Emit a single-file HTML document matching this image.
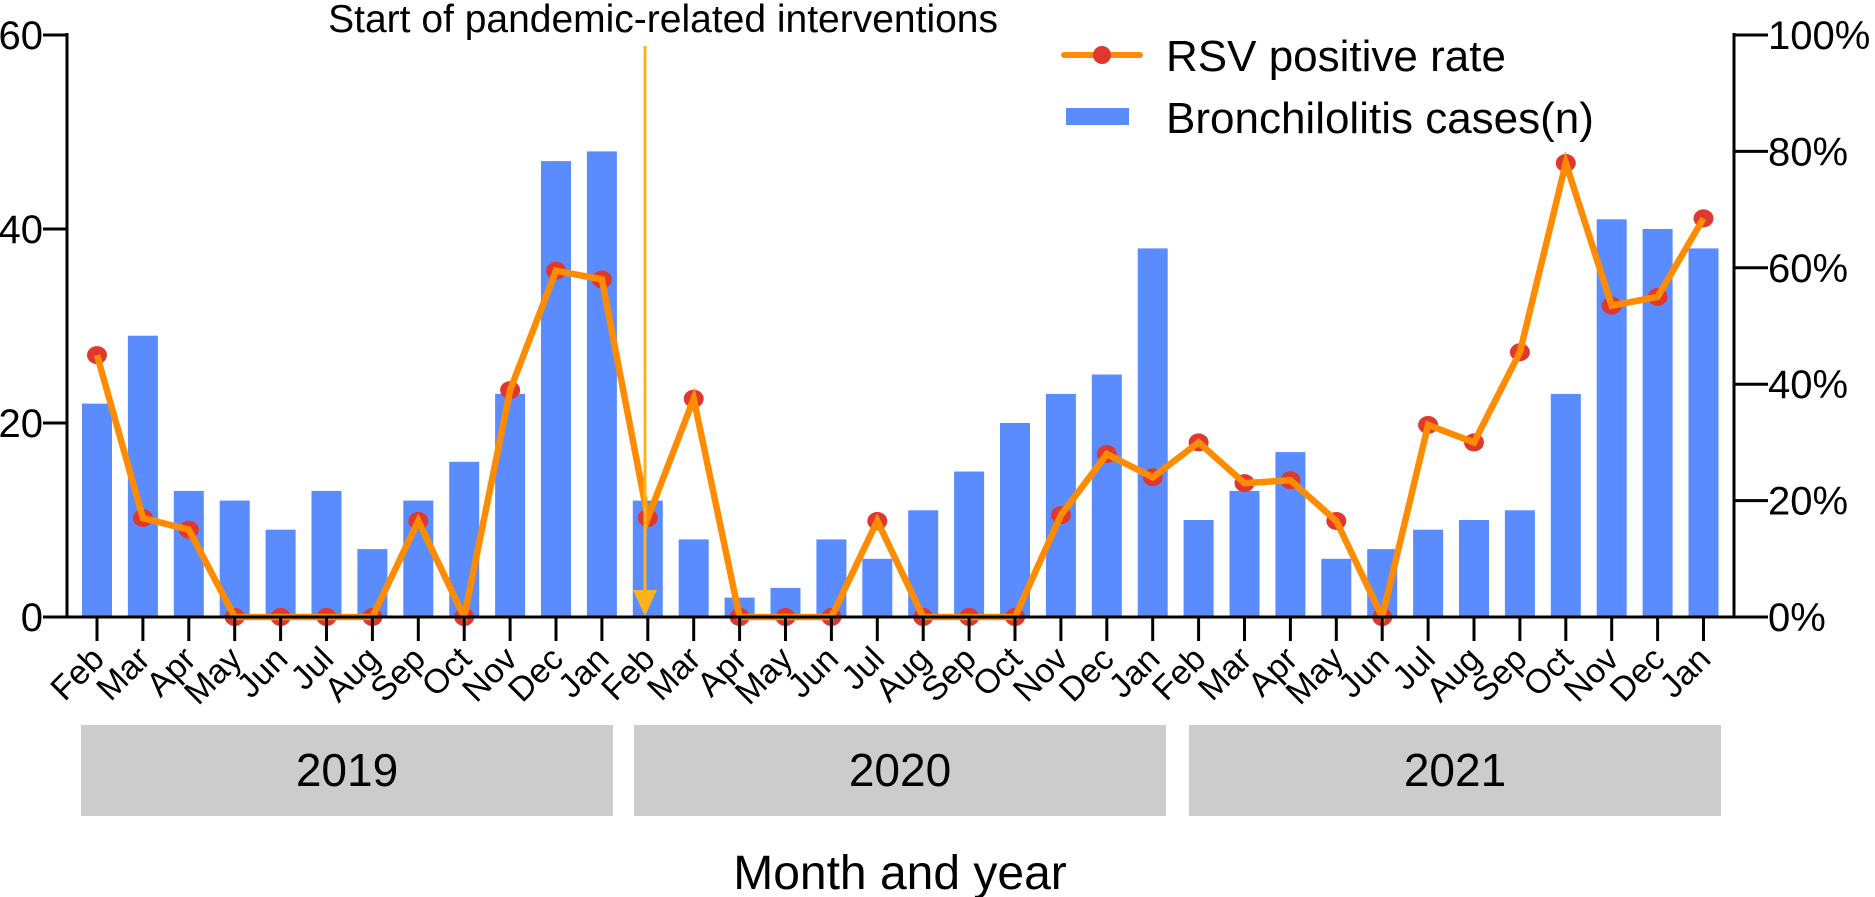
<!DOCTYPE html>
<html><head><meta charset="utf-8"><style>
body{margin:0;background:#fff;}
svg{display:block;font-family:"Liberation Sans",Arial,sans-serif;}
</style></head><body>
<svg id="chart" width="1875" height="897" viewBox="0 0 1875 897" xmlns="http://www.w3.org/2000/svg">
<g id="bars"></g>
<g id="line"></g>
<g id="axes"></g>
<g>
<text x="998" y="32" font-size="39" text-anchor="end">Start of pandemic-related interventions</text>
<line x1="645" y1="46" x2="645" y2="600" stroke="#ffb31a" stroke-width="3"/>
<polygon points="633,590 657,590 645,616" fill="#ffb31a"/>
</g>
<g>
<line x1="1064" y1="55" x2="1140" y2="55" stroke="#ff8c00" stroke-width="6" stroke-linecap="round"/>
<ellipse cx="1102" cy="55" rx="9" ry="9" fill="#e0382f"/>
<text x="1166" y="71" font-size="44">RSV positive rate</text>
<rect x="1066" y="108" width="63" height="17" fill="#5a8cff"/>
<text x="1166" y="133" font-size="44">Bronchilolitis cases(n)</text>
</g>
<g>
<rect x="81" y="725" width="532" height="91" fill="#cbcccb"/>
<text x="347" y="786" font-size="46" text-anchor="middle">2019</text>
<rect x="634" y="725" width="532" height="91" fill="#cbcccb"/>
<text x="900" y="786" font-size="46" text-anchor="middle">2020</text>
<rect x="1189" y="725" width="532" height="91" fill="#cbcccb"/>
<text x="1455" y="786" font-size="46" text-anchor="middle">2021</text>
</g>
<text x="900" y="889" font-size="48" text-anchor="middle">Month and year</text>
</svg>
<script>
const months = ["Feb","Mar","Apr","May","Jun","Jul","Aug","Sep","Oct","Nov","Dec","Jan","Feb","Mar","Apr","May","Jun","Jul","Aug","Sep","Oct","Nov","Dec","Jan","Feb","Mar","Apr","May","Jun","Jul","Aug","Sep","Oct","Nov","Dec","Jan"];
const cases = [22,29,13,12,9,13,7,12,16,23,47,48,12,8,2,3,8,6,11,15,20,23,25,38,10,13,17,6,7,9,10,11,23,41,40,38];
const rsvRate = [45,17,15,0,0,0,0,16.5,0,39,59.5,58,17,37.5,0,0,0,16.5,0,0,0,17.5,28,24,30,23,23.5,16.5,0,33,30,45.5,78,53.5,55,68.5];
const leftTicks = [0,20,40,60];
const rightTicks = [0,20,40,60,80,100];

const NS="http://www.w3.org/2000/svg";
const X0=97, DX=45.9, Y0=617, YTOP=35, AXL=67, AXR=1734, BW=30;
const xs=i=>X0+i*DX;
const yL=v=>Y0-(v/60)*(Y0-YTOP);
const yR=v=>Y0-(v/100)*(Y0-YTOP);
function mk(tag,attrs,parent){const e=document.createElementNS(NS,tag);for(const k in attrs)e.setAttribute(k,attrs[k]);parent.appendChild(e);return e;}
const bars=document.getElementById('bars'), line=document.getElementById('line'), axes=document.getElementById('axes');

cases.forEach((v,i)=>{
  const r=mk('rect',{x:xs(i)-BW/2,y:yL(v),width:BW,height:Y0-yL(v),fill:'#5a8cff'},bars);
  
  
});
rsvRate.forEach((v,i)=>{
  const c=mk('ellipse',{cx:xs(i),cy:yR(v),rx:10,ry:9,fill:'#e0382f'},line);
  
  
});
const pl=mk('polyline',{points:rsvRate.map((v,i)=>xs(i)+','+yR(v)).join(' '),fill:'none',stroke:'#ff8c00','stroke-width':6.5},line);



let a=mk('line',{x1:AXL,y1:YTOP-2,x2:AXL,y2:Y0+1,stroke:'#000','stroke-width':3},axes);


a=mk('line',{x1:AXR,y1:YTOP-2,x2:AXR,y2:Y0+1,stroke:'#000','stroke-width':3},axes);


a=mk('line',{x1:43,y1:Y0,x2:AXR,y2:Y0,stroke:'#000','stroke-width':3},axes);


leftTicks.forEach(v=>{
  if(v>0){const t=mk('line',{x1:43,y1:yL(v),x2:AXL,y2:yL(v),stroke:'#000','stroke-width':3},axes);
  
  }
  const tx=mk('text',{x:43,y:yL(v)+14,'font-size':40,'text-anchor':'end'},axes);
  tx.textContent=v;
  
  
});
rightTicks.forEach(v=>{
  const t=mk('line',{x1:AXR,y1:yR(v),x2:AXR+34,y2:yR(v),stroke:'#000','stroke-width':3},axes);
  
  
  const tx=mk('text',{x:AXR+34,y:yR(v)+14,'font-size':40},axes);
  tx.textContent=v+'%';
  
  
});
months.forEach((m,i)=>{
  const t=mk('line',{x1:xs(i),y1:Y0,x2:xs(i),y2:641,stroke:'#000','stroke-width':3},axes);
  
  
  const tx=mk('text',{x:xs(i)+9,y:661,'font-size':34,'text-anchor':'end',transform:'rotate(-45 '+(xs(i)+9)+' 661)'},axes);
  tx.textContent=m;
  
  
});
</script>
</body></html>
